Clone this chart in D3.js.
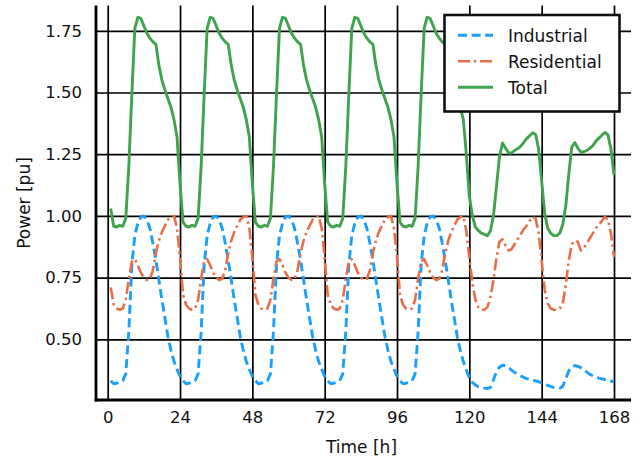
<!DOCTYPE html>
<html>
<head>
<meta charset="utf-8">
<script src="https://cdn.jsdelivr.net/npm/d3@7"></script>
<style>
  html, body { margin: 0; padding: 0; background: #fff; }
  svg { display: block; font-family: "DejaVu Sans", sans-serif; }
</style>
</head>
<body>
<svg id="chart" width="640" height="459"></svg>
<script>
// ---------------- data ----------------
const hours = Array.from({ length: 168 }, (_, i) => i + 1);

const industrial = [
  // Mon
  0.332,0.32,0.322,0.328,0.332,0.36,0.53,0.80,0.92,0.97,0.995,1.0,0.985,0.95,0.89,0.82,0.74,0.66,0.585,0.51,0.455,0.41,0.378,0.35,
  // Tue
  0.332,0.32,0.322,0.328,0.332,0.36,0.53,0.80,0.92,0.97,0.995,1.0,0.985,0.95,0.89,0.82,0.74,0.66,0.585,0.51,0.455,0.41,0.378,0.35,
  // Wed
  0.332,0.32,0.322,0.328,0.332,0.36,0.53,0.80,0.92,0.97,0.995,1.0,0.985,0.95,0.89,0.82,0.74,0.66,0.585,0.51,0.455,0.41,0.378,0.35,
  // Thu
  0.332,0.32,0.322,0.328,0.332,0.36,0.53,0.80,0.92,0.97,0.995,1.0,0.985,0.95,0.89,0.82,0.74,0.66,0.585,0.51,0.455,0.41,0.378,0.35,
  // Fri
  0.332,0.32,0.322,0.328,0.332,0.36,0.53,0.80,0.92,0.97,0.995,1.0,0.985,0.95,0.89,0.82,0.74,0.66,0.585,0.51,0.455,0.41,0.375,0.345,
  // Sat
  0.325,0.315,0.308,0.305,0.302,0.30,0.305,0.335,0.37,0.387,0.395,0.393,0.385,0.375,0.366,0.358,0.352,0.346,0.341,0.337,0.334,0.332,0.328,0.323,
  // Sun
  0.318,0.313,0.309,0.305,0.303,0.302,0.31,0.34,0.372,0.388,0.393,0.39,0.385,0.375,0.367,0.358,0.352,0.347,0.343,0.34,0.337,0.334,0.331,0.328
];

const residential = [
  // Mon
  0.71,0.64,0.625,0.62,0.625,0.66,0.745,0.815,0.825,0.80,0.77,0.75,0.74,0.745,0.78,0.85,0.90,0.935,0.96,0.985,0.995,1.0,0.95,0.83,
  // Tue
  0.68,0.64,0.625,0.62,0.625,0.66,0.745,0.815,0.825,0.80,0.77,0.75,0.74,0.745,0.78,0.85,0.90,0.935,0.96,0.985,0.995,1.0,0.95,0.83,
  // Wed
  0.68,0.64,0.625,0.62,0.625,0.66,0.745,0.815,0.825,0.80,0.77,0.75,0.74,0.745,0.78,0.85,0.90,0.935,0.96,0.985,0.995,1.0,0.95,0.83,
  // Thu
  0.68,0.64,0.625,0.62,0.625,0.66,0.745,0.815,0.825,0.80,0.77,0.75,0.74,0.745,0.78,0.85,0.90,0.935,0.96,0.985,0.995,1.0,0.95,0.83,
  // Fri
  0.68,0.64,0.625,0.62,0.625,0.66,0.745,0.815,0.825,0.80,0.77,0.75,0.74,0.745,0.78,0.85,0.90,0.935,0.96,0.985,0.995,1.0,0.94,0.83,
  // Sat
  0.73,0.66,0.63,0.62,0.62,0.63,0.67,0.74,0.83,0.895,0.905,0.88,0.86,0.865,0.885,0.905,0.925,0.945,0.96,0.98,0.995,0.99,0.93,0.815,
  // Sun
  0.70,0.645,0.625,0.62,0.618,0.625,0.645,0.72,0.82,0.885,0.90,0.895,0.86,0.87,0.89,0.91,0.93,0.95,0.965,0.98,0.996,0.985,0.928,0.834
];

const total = [
  // Mon
  1.03,0.958,0.955,0.962,0.958,0.99,1.2,1.49,1.76,1.805,1.80,1.77,1.74,1.72,1.705,1.695,1.61,1.55,1.51,1.475,1.44,1.39,1.32,1.13,
  // Tue
  0.975,0.958,0.955,0.962,0.958,0.99,1.2,1.49,1.76,1.805,1.80,1.77,1.74,1.72,1.705,1.695,1.61,1.55,1.51,1.475,1.44,1.39,1.32,1.13,
  // Wed
  0.975,0.958,0.955,0.962,0.958,0.99,1.2,1.49,1.76,1.805,1.80,1.77,1.74,1.72,1.705,1.695,1.61,1.55,1.51,1.475,1.44,1.39,1.32,1.13,
  // Thu
  0.975,0.958,0.955,0.962,0.958,0.99,1.2,1.49,1.76,1.805,1.80,1.77,1.74,1.72,1.705,1.695,1.61,1.55,1.51,1.475,1.44,1.39,1.32,1.13,
  // Fri
  0.975,0.958,0.955,0.962,0.958,0.99,1.2,1.49,1.76,1.805,1.80,1.77,1.74,1.72,1.705,1.695,1.61,1.55,1.51,1.475,1.44,1.39,1.25,1.08,
  // Sat
  1.0,0.955,0.94,0.93,0.925,0.92,0.94,1.0,1.12,1.24,1.295,1.275,1.255,1.255,1.265,1.272,1.282,1.297,1.313,1.325,1.337,1.33,1.27,1.14,
  // Sun
  1.01,0.95,0.93,0.92,0.92,0.93,0.965,1.04,1.17,1.28,1.297,1.275,1.258,1.26,1.265,1.275,1.285,1.303,1.315,1.327,1.338,1.328,1.27,1.165
];

const xTicks = [0, 24, 48, 72, 96, 120, 144, 168];
const yTicks = [0.50, 0.75, 1.00, 1.25, 1.50, 1.75];
const seriesNames = ["Industrial", "Residential", "Total"];

// ---------------- layout ----------------
const plot = { left: 96, right: 631, top: 5.5, bottom: 400 };
const x = d3.scaleLinear().domain([0, 168]).range([107.7, 614]);
const y = d3.scaleLinear().domain([0.5, 1.75]).range([339.3, 30.8]);

const styles = {
  Industrial:  { color: "#1a9ffb", width: 2.9, dash: "9,4.6" },
  Residential: { color: "#e76f47", width: 2.6, dash: "12,3.8,2.4,3.8" },
  Total:       { color: "#3fa34c", width: 2.9, dash: null }
};

const svg = d3.select("#chart");

svg.append("defs").append("clipPath").attr("id", "clip")
  .append("rect")
  .attr("x", plot.left).attr("y", plot.top)
  .attr("width", plot.right - plot.left).attr("height", plot.bottom - plot.top);

// grid + ticks via axes
const gx = svg.append("g")
  .attr("transform", `translate(0,${plot.bottom})`)
  .call(d3.axisBottom(x).tickValues(xTicks).tickFormat(d3.format("d"))
    .tickSize(-(plot.bottom - plot.top)).tickPadding(11));
gx.select(".domain").remove();
gx.selectAll("line").attr("stroke", "#000").attr("stroke-width", 1.7);
gx.selectAll("text").attr("font-size", 16.5).attr("fill", "#111")
  .attr("font-family", "DejaVu Sans");

const gy = svg.append("g")
  .attr("transform", `translate(${plot.left},0)`)
  .call(d3.axisLeft(y).tickValues(yTicks).tickFormat(d3.format(".2f"))
    .tickSize(-(plot.right - plot.left)).tickPadding(14));
gy.select(".domain").remove();
gy.selectAll("line").attr("stroke", "#000").attr("stroke-width", 1.7);
gy.selectAll("text").attr("font-size", 16.5).attr("fill", "#111")
  .attr("font-family", "DejaVu Sans");

// lines
const data = {
  Industrial: industrial,
  Residential: residential,
  Total: total
};
const line = d3.line().x((d, i) => x(hours[i])).y(d => y(d));
const lines = svg.append("g").attr("clip-path", "url(#clip)");
seriesNames.forEach(name => {
  const s = styles[name];
  lines.append("path")
    .datum(data[name])
    .attr("d", line)
    .attr("fill", "none")
    .attr("stroke", s.color)
    .attr("stroke-width", s.width)
    .attr("stroke-linejoin", "round")
    .attr("stroke-dasharray", s.dash);
});

// spines (left + bottom)
svg.append("line").attr("x1", plot.left).attr("x2", plot.left)
  .attr("y1", plot.top).attr("y2", plot.bottom + 1.4)
  .attr("stroke", "#000").attr("stroke-width", 2.8);
svg.append("line").attr("x1", plot.left - 1.4).attr("x2", plot.right)
  .attr("y1", plot.bottom).attr("y2", plot.bottom)
  .attr("stroke", "#000").attr("stroke-width", 2.8);

// axis labels
svg.append("text")
  .attr("x", 361.5).attr("y", 452.5)
  .attr("text-anchor", "middle")
  .attr("font-size", 17).attr("fill", "#111")
  .text("Time [h]");
svg.append("text")
  .attr("transform", "translate(30,203) rotate(-90)")
  .attr("text-anchor", "middle")
  .attr("font-size", 17).attr("fill", "#111")
  .text("Power [pu]");

// legend
const lg = svg.append("g");
lg.append("rect")
  .attr("x", 444.5).attr("y", 15).attr("width", 175).attr("height", 96.5)
  .attr("fill", "#fff").attr("stroke", "#111").attr("stroke-width", 2.6);
seriesNames.forEach((name, i) => {
  const s = styles[name];
  const yy = 35.3 + i * 26;
  lg.append("line")
    .attr("x1", 458).attr("x2", 493).attr("y1", yy).attr("y2", yy)
    .attr("stroke", s.color).attr("stroke-width", s.width)
    .attr("stroke-dasharray", s.dash);
  lg.append("text")
    .attr("x", 508).attr("y", yy + 6.5)
    .attr("font-size", 17).attr("fill", "#111")
    .text(name);
});
</script>
</body>
</html>
